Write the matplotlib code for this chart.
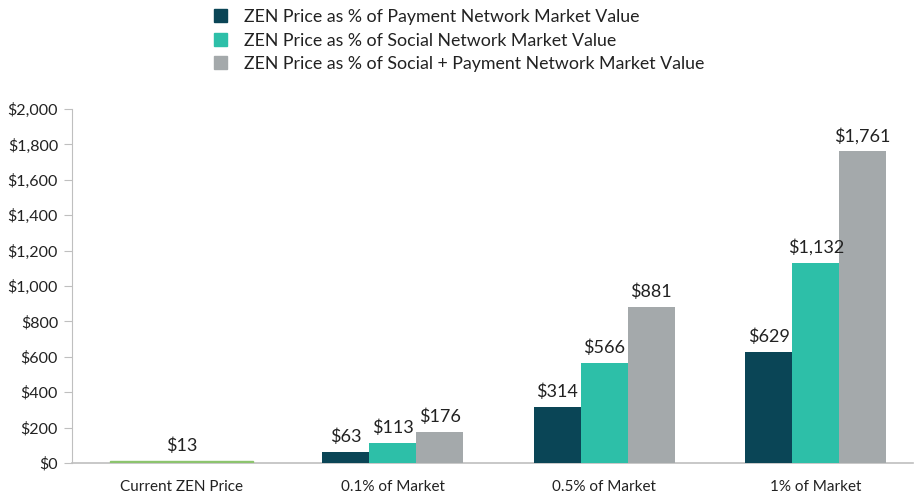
import matplotlib
matplotlib.use("Agg")
import matplotlib.pyplot as plt
from matplotlib.patches import Patch
import numpy as np

plt.rcParams['font.family'] = ['Lato', 'DejaVu Sans']

categories = ["Current ZEN Price", "0.1% of Market", "0.5% of Market", "1% of Market"]
current_price = [13]
series_names = [
    "ZEN Price as % of Payment Network Market Value",
    "ZEN Price as % of Social Network Market Value",
    "ZEN Price as % of Social + Payment Network Market Value",
]
payment = [63, 314, 629]
social = [113, 566, 1132]
combined = [176, 881, 1761]
yticks = [0, 200, 400, 600, 800, 1000, 1200, 1400, 1600, 1800, 2000]

colors = ["#0a4556", "#2dbfa8", "#a4a9ab"]
green = "#8cc46e"

fig = plt.figure(figsize=(9.15, 4.96), dpi=100)
ax = fig.add_axes([72/915, 1-463/496, (913-72)/915, (463-109)/496])

w = 47/211.5
x = np.arange(len(categories))
# current price
ax.bar([x[0]], current_price, width=143/211.5, color=green, edgecolor=green,
       linewidth=1, zorder=3)
for xi, v in zip([x[0]], current_price):
    ax.annotate(f"${v:,}", (xi, v), xytext=(0, 5), textcoords="offset points",
                ha="center", va="bottom", fontsize=13, color="#222222", zorder=5)

offsets = [-w, 0, w]
for vals, off, c in zip([payment, social, combined], offsets, colors):
    xs = x[1:] + off
    ax.bar(xs, vals, width=w, color=c, zorder=3)
    for xi, v in zip(xs, vals):
        ax.annotate(f"${v:,}", (xi, v), xytext=(0, 5), textcoords="offset points",
                    ha="center", va="bottom", fontsize=13, color="#222222", zorder=5)

ax.set_xlim(-0.518, 3.46)
ax.set_ylim(0, 2000)
ax.set_yticks(yticks)
ax.set_yticklabels([f"${t:,}" for t in yticks], fontsize=11.5, color="#222222")
ax.set_xticks(x)
ax.set_xticklabels(categories, fontsize=11, color="#222222")
ax.tick_params(axis="x", length=0, pad=12)
ax.tick_params(axis="y", length=6, color="#bfbfbf", pad=4)
for s in ["top", "right"]:
    ax.spines[s].set_visible(False)
ax.spines["left"].set_color("#bfbfbf")
ax.spines["bottom"].set_color("#bfbfbf")
ax.spines["bottom"].set_linewidth(1.2)
ax.spines["bottom"].set_zorder(2)

handles = [Patch(color=c) for c in colors]
fig.legend(handles, series_names, loc="upper left", bbox_to_anchor=(198/915, 1.014),
           frameon=False, fontsize=12.8, handlelength=0.75, handleheight=0.75,
           labelspacing=0.42, handletextpad=0.95, labelcolor="#222222")

fig.savefig("out.png", dpi=100)
